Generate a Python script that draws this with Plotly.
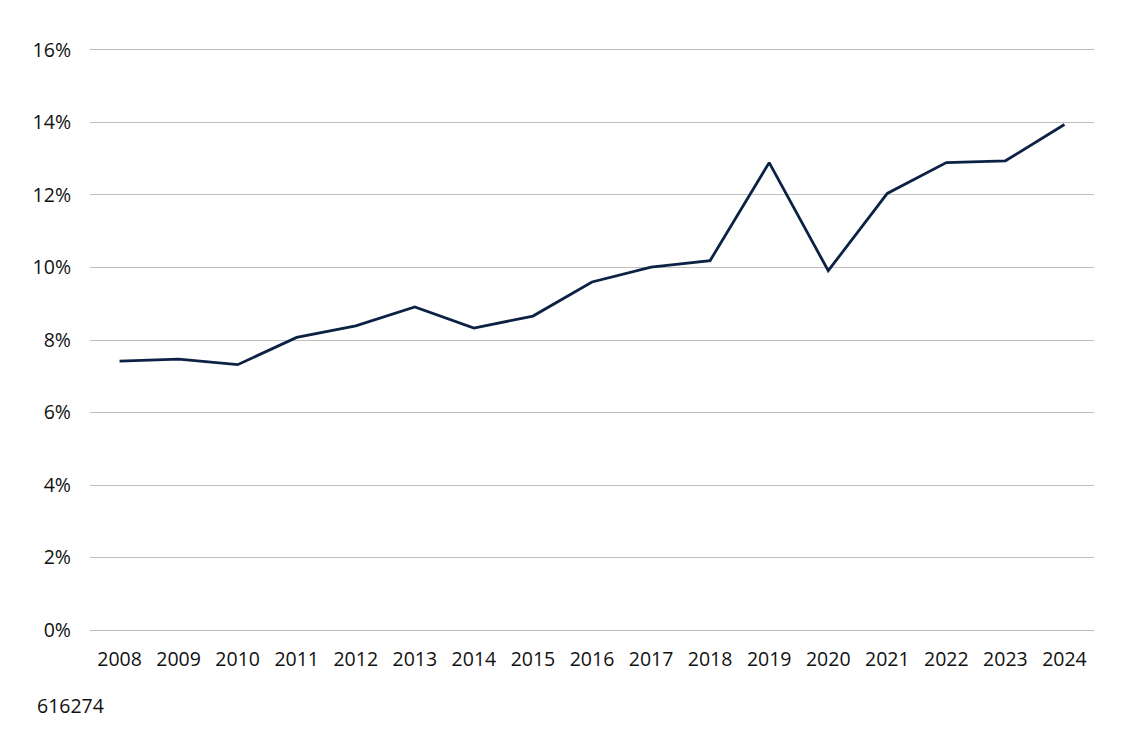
import plotly.graph_objects as go

years = ["2008", "2009", "2010", "2011", "2012", "2013", "2014", "2015", "2016",
         "2017", "2018", "2019", "2020", "2021", "2022", "2023", "2024"]
values = [7.42, 7.47, 7.32, 8.07, 8.39, 8.91, 8.33, 8.66, 9.60,
          10.01, 10.19, 12.89, 9.91, 12.04, 12.89, 12.94, 13.94]
y_ticks = [0, 2, 4, 6, 8, 10, 12, 14, 16]
y_tick_labels = [f"{v}%" for v in y_ticks]
footnote = "616274"

FONT = "Open Sans, Noto Sans, sans-serif"
EPS = 0.05

fig = go.Figure()
fig.add_trace(go.Scatter(
    x=list(range(len(years))), y=values, mode="lines",
    line=dict(color="#0c2244", width=2.8),
    hoverinfo="skip", showlegend=False,
))

fig.update_layout(
    width=1134, height=730,
    margin=dict(l=90, r=40, t=48, b=98),
    paper_bgcolor="white", plot_bgcolor="white",
    font=dict(family=FONT, size=19.5, color="#111111"),
    xaxis=dict(
        range=[-0.5, len(years) - 0.5],
        tickmode="array", tickvals=list(range(len(years))), ticktext=years,
        showgrid=False, zeroline=False, showline=False,
        ticks="", ticklabelstandoff=13,
    ),
    yaxis=dict(
        range=[-EPS, 16 + EPS],
        tickmode="array", tickvals=y_ticks, ticktext=y_tick_labels,
        showgrid=True, gridcolor="#bfbfbf", gridwidth=1,
        zeroline=False, showline=False,
        ticks="", ticklabelstandoff=18,
    ),
    annotations=[dict(
        text=footnote, xref="paper", yref="paper",
        x=(35 - 90) / 1004, y=(632 - 705) / 584,
        xanchor="left", yanchor="middle", showarrow=False,
        font=dict(family=FONT, size=19.5, color="#111111"),
    )],
)

fig.write_html("out.html", config={"displayModeBar": False},
               post_script="document.body.style.margin='0';document.body.style.overflow='hidden';")
